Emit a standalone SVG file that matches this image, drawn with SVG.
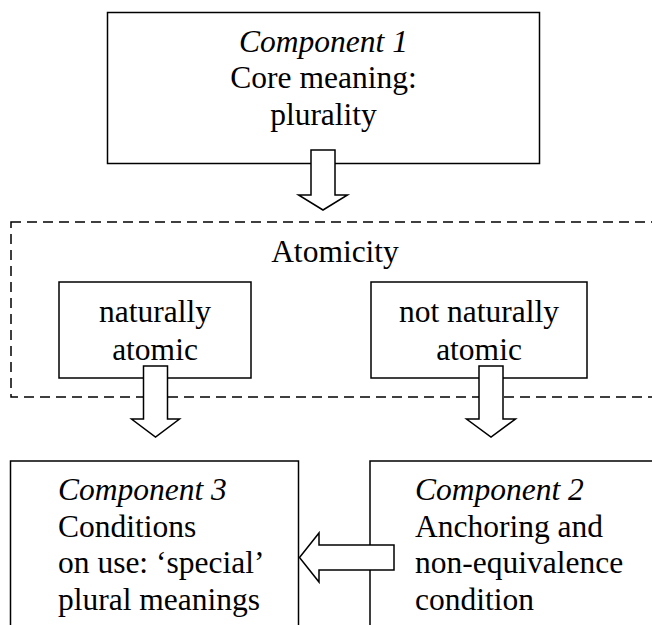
<svg xmlns="http://www.w3.org/2000/svg" width="652" height="625" viewBox="0 0 652 625">
<style>
.box{fill:#fff;stroke:#000;stroke-width:1.5}
.dash{fill:none;stroke:#000;stroke-width:1.5;stroke-dasharray:10 6}
.arr{fill:#fff;stroke:#000;stroke-width:1.5;stroke-linejoin:miter}
.c{text-anchor:middle}
.i{font-style:italic}
</style>
<rect width="652" height="625" fill="#fff"/>
<g font-family="Liberation Serif, Times New Roman, Tinos, Nimbus Roman, Noto Serif, DejaVu Serif, FreeSerif, serif" font-size="31.5">
<g id="component1">
<rect class="box" x="107.5" y="12.5" width="432" height="151"/>
<text class="c i" x="323.5" y="51.5">Component 1</text>
<text class="c" x="323.5" y="88">Core meaning:</text>
<text class="c" x="323.5" y="124.5">plurality</text>
</g>
<g id="atomicity">
<rect class="dash" x="11" y="222" width="660" height="175"/>
<text class="c" x="335" y="261.5">Atomicity</text>
</g>
<g id="naturally-atomic">
<rect class="box" x="59" y="282" width="192" height="96"/>
<text class="c" x="155" y="321.5">naturally</text>
<text class="c" x="155" y="360">atomic</text>
</g>
<g id="not-naturally-atomic">
<rect class="box" x="371" y="282" width="216" height="96"/>
<text class="c" x="479" y="321.5">not naturally</text>
<text class="c" x="479" y="360">atomic</text>
</g>
<g id="component3">
<rect class="box" x="10.5" y="461" width="288" height="180"/>
<text class="i" x="58" y="499.5">Component 3</text>
<text x="58" y="536.5">Conditions</text>
<text x="58" y="573">on use: ‘special’</text>
<text x="58" y="610">plural meanings</text>
</g>
<g id="component2">
<rect class="box" x="370" y="461" width="300" height="180"/>
<text class="i" x="415" y="499.5">Component 2</text>
<text x="415" y="536.5">Anchoring and</text>
<text x="415" y="573">non-equivalence</text>
<text x="415" y="610">condition</text>
</g>
</g>
<g id="connectors">
<polygon class="arr" points="311,150 335,150 335,195 347.5,195 323,210 298.5,195 311,195"/>
<polygon class="arr" points="143.5,366 167.5,366 167.5,419 179.5,419 155.5,437 131.5,419 143.5,419"/>
<polygon class="arr" points="479,366 503,366 503,419 515.5,419 491,437 466.5,419 479,419"/>
<polygon class="arr" points="394,545 394,570 319,570 319,582 299.5,557.5 319,533 319,545"/>
</g>
</svg>
